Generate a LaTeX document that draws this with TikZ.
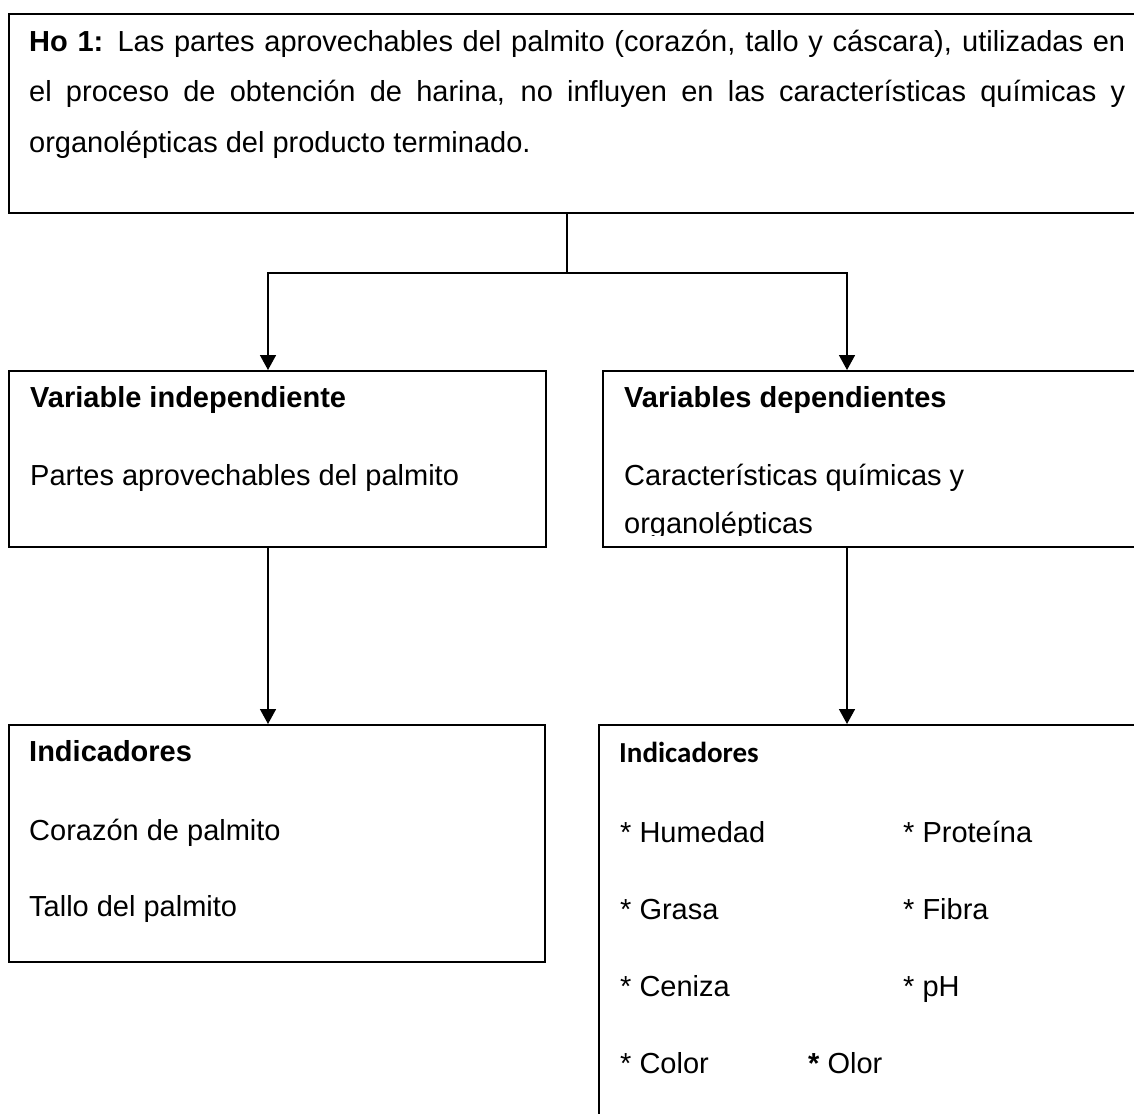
\documentclass[tikz,border=0pt]{standalone}
\usepackage{fontspec}
\setmainfont{Liberation Sans}
\newfontfamily\calibfont{Carlito}
\usetikzlibrary{arrows.meta,positioning}
\tikzset{
  frame/.style={draw,line width=2pt,inner sep=0pt,anchor=north west},
  txt/.style={anchor=base west,inner sep=0pt,font=\fontsize{29}{35}\selectfont},
  headtxt/.style={txt,font=\fontsize{29}{35}\selectfont\bfseries},
  link/.style={line width=1.6pt},
  linkarrow/.style={link,-{Triangle[length=15pt,width=16pt]}},
}
\newcommand{\fullline}[1]{\makebox[1096pt][s]{#1}}

\begin{document}
\begin{tikzpicture}[x=1pt,y=-1pt]
  \useasboundingbox (0,0) rectangle (1134,1113);
  \clip (0,0) rectangle (1134,1113);
  % boxes
  \node[frame,minimum width=1132pt,minimum height=199pt] (hypo) at (8,13) {};
  \node[frame,minimum width=537pt,minimum height=176pt] (indep) at (8,370) {};
  \node[frame,minimum width=540pt,minimum height=176pt] (dep) at (602,370) {};
  \node[frame,minimum width=536pt,minimum height=237pt] (indA) at (8,724) {};
  \node[frame,minimum width=544pt,minimum height=400pt] (indB) at (598,724) {};
  % connectors
  \coordinate (fork) at (567,273);
  \coordinate (la) at (268,273);
  \coordinate (ra) at (847,273);
  \draw[link] (hypo.south -| fork) -- (fork);
  \draw[linkarrow] (fork) -| (la |- indep.north);
  \draw[linkarrow] (fork) -| (ra |- dep.north);
  \draw[linkarrow] (indep.south -| la) -- (indA.north -| la);
  \draw[linkarrow] (dep.south -| ra) -- (indB.north -| ra);
  % hypothesis
  \node[txt] (h1) at (29,52) {\fullline{\textbf{Ho 1:} Las partes aprovechables del palmito (corazón, tallo y cáscara), utilizadas en}};
  \node[txt] (h2) at (29,102) {\fullline{el proceso de obtención de harina, no influyen en las características químicas y}};
  \node[txt] (h3) at (29,152) {organolépticas del producto terminado.};
  % variables
  \node[headtxt] (vi) at (30,407) {Variable independiente};
  \node[txt] (vitx) at (30,485) {Partes aprovechables del palmito};
  \node[headtxt] (vd) at (624,407) {Variables dependientes};
  \node[txt] (vdtx) at (624,485) {Características químicas y};
  \begin{scope}
    \clip (602,370) rectangle (1134,535);
    \node[txt] (vdtx2) at (624,533) {organolépticas};
  \end{scope}
  % indicadores
  \node[headtxt] (iA) at (29,761) {Indicadores};
  \node[txt] (iA1) at (29,840) {Corazón de palmito};
  \node[txt] (iA2) at (29,916) {Tallo del palmito};
  \node[txt,font=\fontsize{29}{35}\calibfont\bfseries] (iB) at (619,762) {Indicadores};
  \node[txt] (hum) at (620,842) {* Humedad};
  \node[txt] (pro) at (903,842) {* Proteína};
  \node[txt] (gra) at (620,919) {* Grasa};
  \node[txt] (fib) at (903,919) {* Fibra};
  \node[txt] (cen) at (620,996) {* Ceniza};
  \node[txt] (ph) at (903,996) {* pH};
  \node[txt] (col) at (620,1073) {* Color};
  \node[txt] (olo) at (808,1073) {\textbf{*} Olor};
\end{tikzpicture}
\end{document}
